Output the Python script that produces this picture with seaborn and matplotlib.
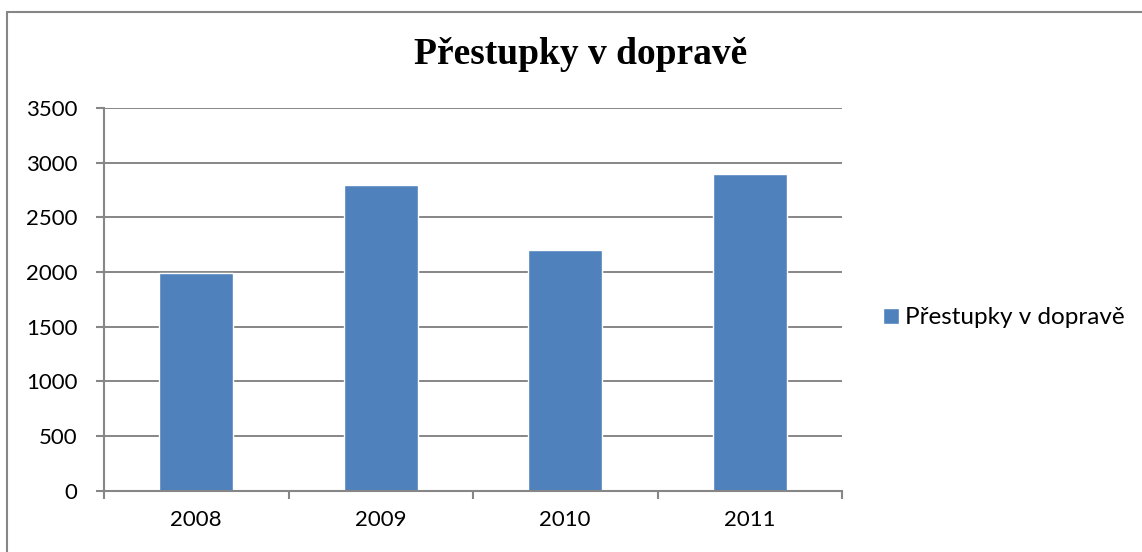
import matplotlib
matplotlib.use('Agg')
import matplotlib.pyplot as plt
from matplotlib.lines import Line2D
import seaborn as sns

# data
years = ['2008', '2009', '2010', '2011']
offences = [1990, 2800, 2200, 2900]
series_name = 'Přestupky v dopravě'
y_ticks = [0, 500, 1000, 1500, 2000, 2500, 3000, 3500]

sns.set_style('white')
plt.rcParams['font.family'] = ['Lato', 'DejaVu Sans']
plt.rcParams['text.color'] = 'black'
plt.rcParams['xtick.labelcolor'] = 'black'
plt.rcParams['ytick.labelcolor'] = 'black'

fig = plt.figure(figsize=(11.42, 5.52), dpi=100)
ax = fig.add_axes([104 / 1142, 61.3 / 552, 738 / 1142, 382.7 / 552])

sns.barplot(x=years, y=offences, color='#4F81BD', width=0.4, saturation=1,
            label=series_name, ax=ax)

gray = '#868686'
ax.set_ylim(0, 3500)
ax.set_xlim(-0.5, 3.5)
ax.set_yticks(y_ticks)
ax.yaxis.grid(True, color=gray, linewidth=1.4)
ax.set_axisbelow(True)
for side in ['top', 'right']:
    ax.spines[side].set_visible(False)
for side in ['left', 'bottom']:
    ax.spines[side].set_color(gray)
    ax.spines[side].set_linewidth(1.5)

# category boundary ticks on x, labels centred
ax.set_xticks([i - 0.5 for i in range(len(years) + 1)], minor=True)
ax.tick_params(axis='x', which='minor', length=6, width=1.5, color=gray, direction='out', bottom=True)
ax.tick_params(axis='x', which='major', length=0, pad=14, labelsize=16, labelcolor='black')
ax.tick_params(axis='y', length=6, width=1.5, color=gray, direction='out', left=True, pad=13,
               labelsize=16, labelcolor='black')
ax.set_xlabel('')
ax.set_ylabel('')

fig.text(581 / 1142, 1 - 64 / 552, series_name, ha='center', va='baseline', color='black',
         fontsize=27, fontweight='bold', family=['Liberation Serif', 'DejaVu Serif'])

leg = ax.legend(loc='center left', bbox_to_anchor=(883 / 1142, 1 - 318 / 552),
                bbox_transform=fig.transFigure, frameon=False, fontsize=17.5,
                handlelength=0.66, handleheight=0.66, handletextpad=0.25,
                borderpad=0, borderaxespad=0)
for t in leg.get_texts():
    t.set_color('black')

# chart area border (top and left edges visible)
fig.add_artist(Line2D([7 / 1142, 7 / 1142], [0, 1 - 12 / 552], color=gray, lw=1.5))
fig.add_artist(Line2D([7 / 1142, 1], [1 - 12 / 552, 1 - 12 / 552], color=gray, lw=1.5))

fig.savefig('out.png', dpi=100)
